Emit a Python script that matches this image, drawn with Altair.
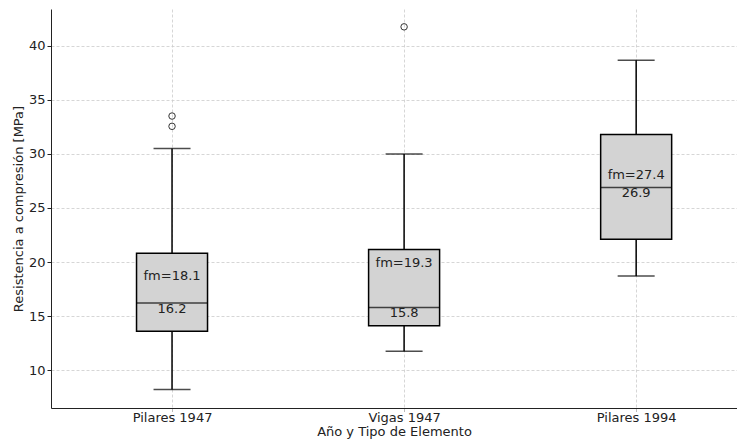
import altair as alt
import pandas as pd

categories = ["Pilares 1947", "Vigas 1947", "Pilares 1994"]
q1 = [13.6, 14.1, 22.1]
median = [16.2, 15.8, 26.9]
q3 = [20.8, 21.15, 31.8]
whisker_low = [8.2, 11.75, 18.7]
whisker_high = [30.5, 30.0, 38.65]
means = [18.1, 19.3, 27.4]
outlier_cat = ["Pilares 1947", "Pilares 1947", "Vigas 1947"]
outlier_val = [33.5, 32.55, 41.75]

pos = {c: i + 1 for i, c in enumerate(categories)}
df = pd.DataFrame({
    "cat": categories,
    "pos": [pos[c] for c in categories],
    "q1": q1, "median": median, "q3": q3,
    "lo": whisker_low, "hi": whisker_high, "mean": means,
})
df["mean_lbl"] = [f"fm={m:.1f}" for m in means]
df["med_lbl"] = [f"{m:.1f}" for m in median]
out = pd.DataFrame({"pos": [pos[c] for c in outlier_cat], "val": outlier_val})

label_expr = "[''," + ",".join(f"'{c}'" for c in categories) + "][datum.value]"

FONT = "DejaVu Sans"
x = alt.X("pos:Q", scale=alt.Scale(domain=[0.5, 3.413], nice=False, zero=False),
          axis=alt.Axis(values=[1, 2, 3], labelExpr=label_expr,
                        title="Año y Tipo de Elemento"))
y_scale = alt.Scale(domain=[6.5, 43.4], nice=False, zero=False)
yax = alt.Axis(values=[10, 15, 20, 25, 30, 35, 40],
               title="Resistencia a compresión [MPa]")

base = alt.Chart(df)

whisk_up = base.mark_rule(color="black", strokeWidth=1.5).encode(
    x=x, y=alt.Y("q3:Q", scale=y_scale, axis=yax), y2="hi:Q")
whisk_dn = base.mark_rule(color="black", strokeWidth=1.5).encode(
    x=x, y=alt.Y("lo:Q", scale=y_scale), y2="q1:Q")
cap_hi = base.mark_tick(orient="horizontal", size=37, thickness=1.5, color="black").encode(
    x=x, y=alt.Y("hi:Q", scale=y_scale))
cap_lo = base.mark_tick(orient="horizontal", size=37, thickness=1.5, color="black").encode(
    x=x, y=alt.Y("lo:Q", scale=y_scale))
box = base.mark_bar(size=71, fill="#d3d3d3", stroke="black", strokeWidth=1.5).encode(
    x=x, y=alt.Y("q1:Q", scale=y_scale), y2="q3:Q")
med = base.mark_tick(orient="horizontal", size=71, thickness=1.5, color="black").encode(
    x=x, y=alt.Y("median:Q", scale=y_scale))
mean_txt = base.mark_text(baseline="bottom", fontSize=13, font=FONT, color="#222").encode(
    x=x, y=alt.Y("mean:Q", scale=y_scale), text="mean_lbl:N")
med_txt = base.mark_text(baseline="top", fontSize=13, font=FONT, color="#222").encode(
    x=x, y=alt.Y("median:Q", scale=y_scale), text="med_lbl:N")
outl = alt.Chart(out).mark_point(shape="circle", filled=False, size=42, color="#333",
                                 strokeWidth=1, opacity=1).encode(
    x=x, y=alt.Y("val:Q", scale=y_scale))

chart = alt.layer(whisk_up, whisk_dn, cap_hi, cap_lo, box, med, mean_txt, med_txt, outl).properties(
    width=686, height=399, autosize="none",
    padding={"left": 43, "top": 1, "right": 0, "bottom": 31},
).configure_view(stroke=None).configure_axis(
    labelFont=FONT, titleFont=FONT, labelFontSize=13, titleFontSize=13,
    labelColor="#222", titleColor="#222", titleFontWeight="normal",
    domainColor="#222", domainWidth=1, tickColor="#222", tickSize=4,
    gridColor="#cccccc", gridDash=[3, 2], gridWidth=0.8,
).configure_axisY(labelPadding=2, titlePadding=3).configure_axisX(
    labelPadding=0, titlePadding=1, tickSize=3.5, tickColor="#bbbbbb")

chart.save("out.html", embed_options={"renderer": "svg", "actions": False})
